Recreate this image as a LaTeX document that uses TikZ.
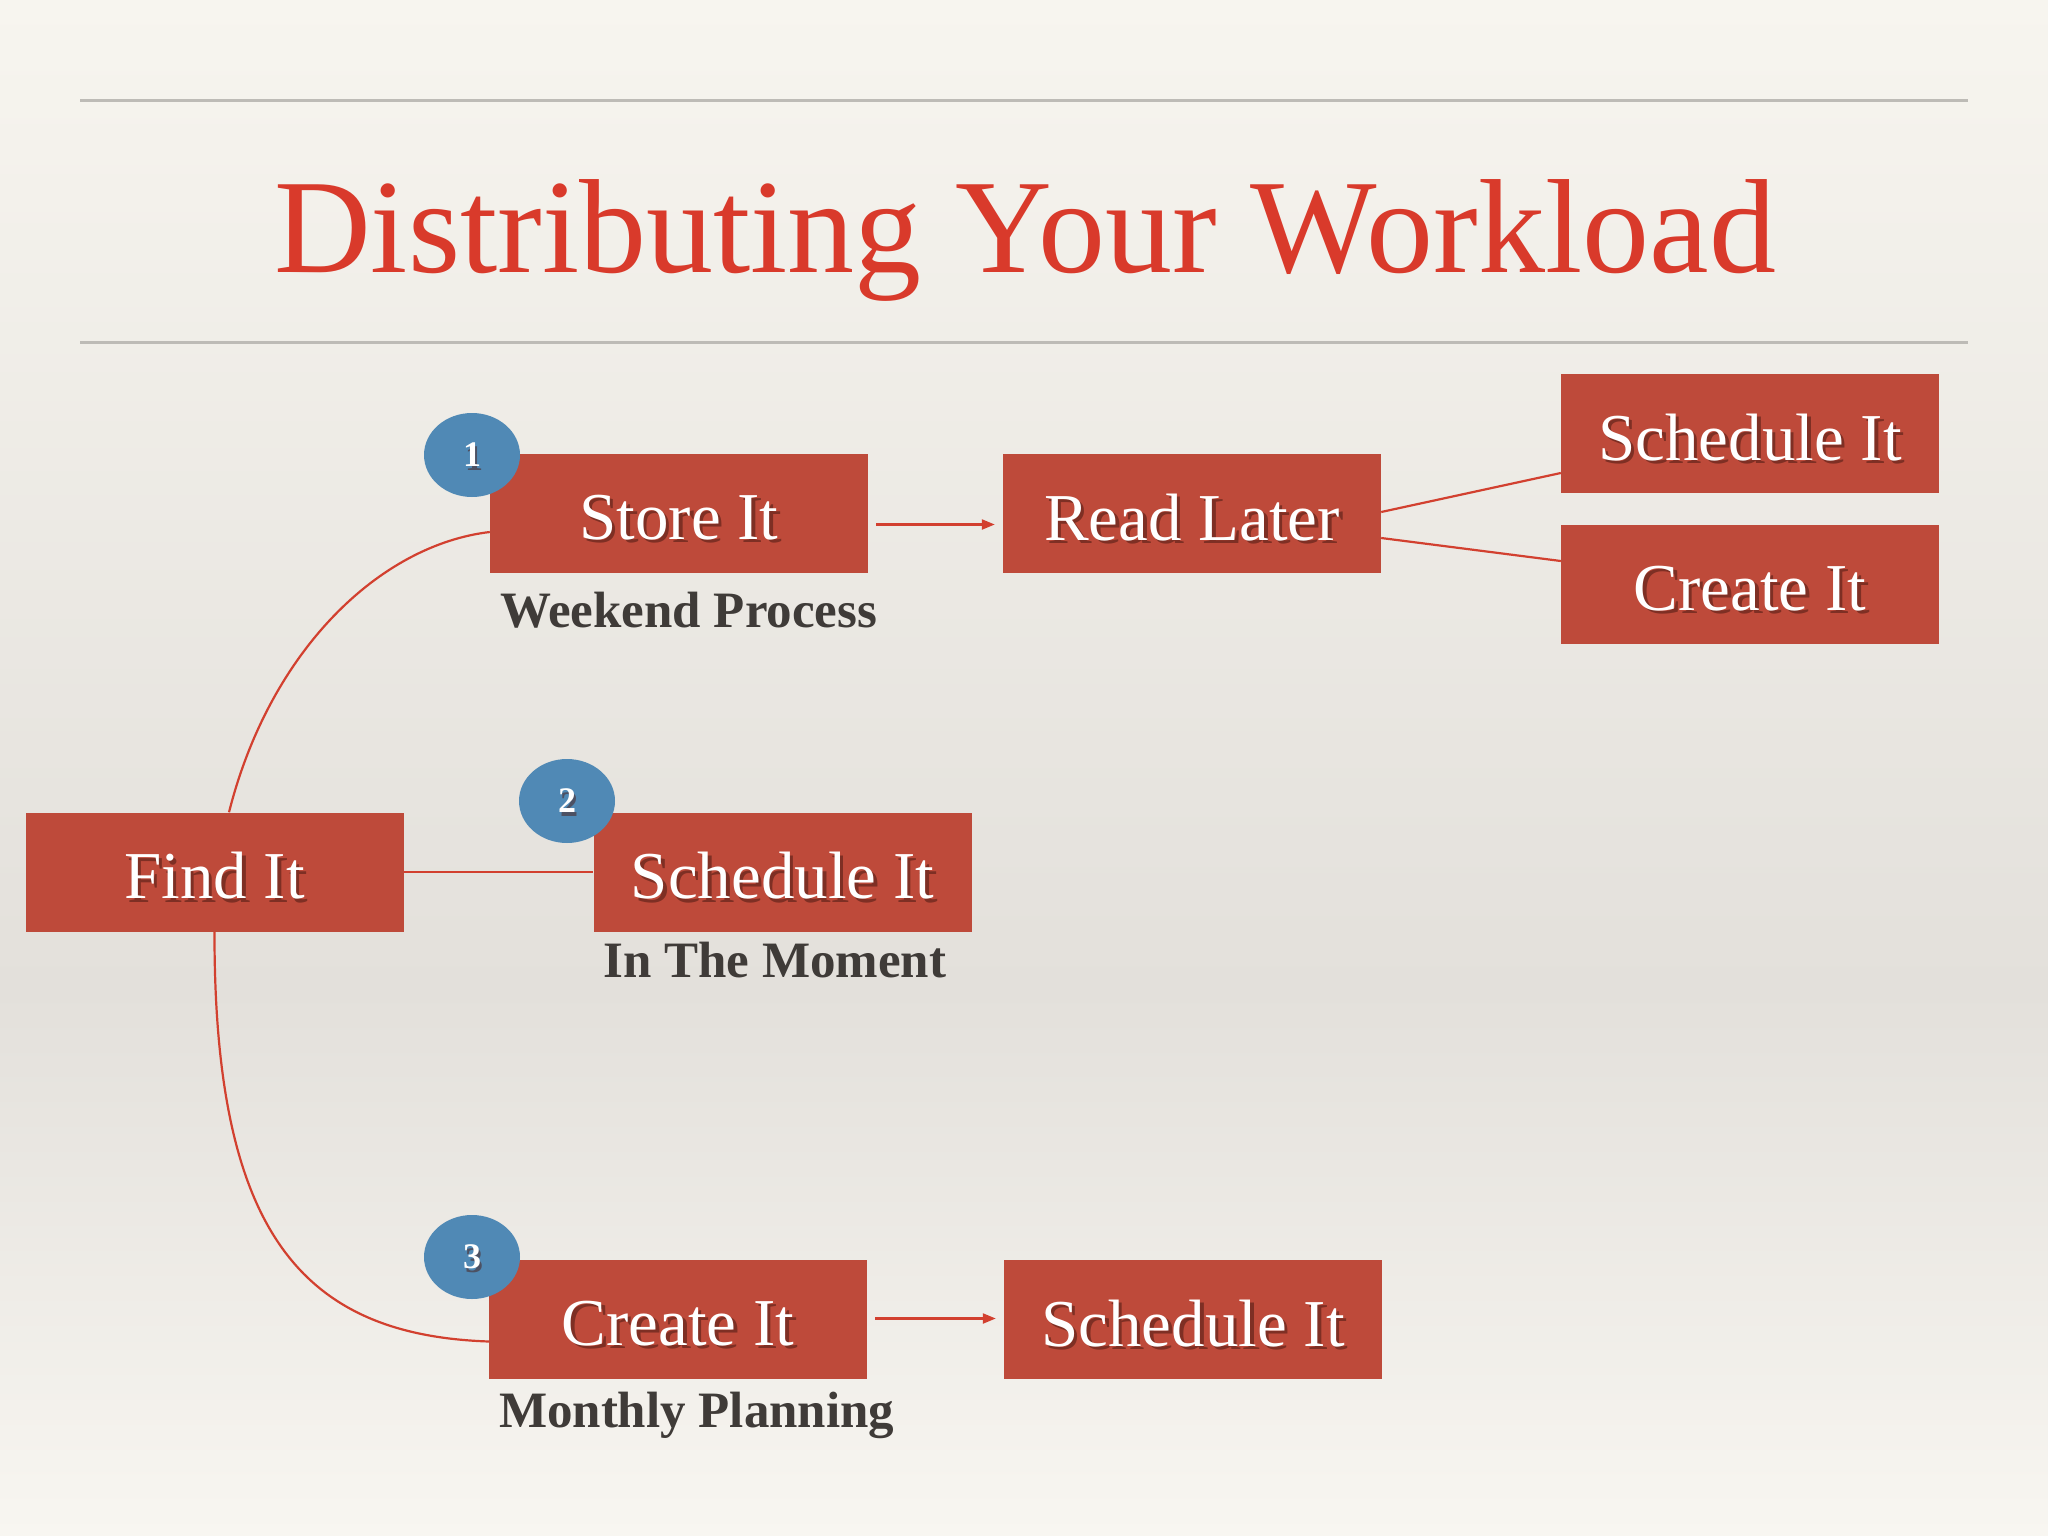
\documentclass[tikz,border=0pt]{standalone}
\usepackage{fontspec}
\setmainfont{Liberation Serif}
\usetikzlibrary{arrows.meta,calc,shapes.geometric}
\definecolor{bgtop}{HTML}{F7F5EF}
\definecolor{bgmid}{HTML}{E3E0DB}
\definecolor{bgbot}{HTML}{F8F6F1}
\definecolor{boxred}{HTML}{BE4A3A}
\definecolor{titlered}{HTML}{D93A2B}
\definecolor{linered}{HTML}{D2402F}
\definecolor{badgeblue}{HTML}{5089B5}
\definecolor{rulegray}{HTML}{BDBBB6}
\definecolor{labelgray}{HTML}{3F3B38}
\definecolor{shadowdark}{HTML}{4A1A12}
\tikzset{
  stepbox/.style={rectangle, fill=boxred, minimum width=378pt, minimum height=119pt, inner sep=0pt},
  boxtext/.style={text=white, font=\fontsize{67}{70}\selectfont},
  boxshadow/.style={text=shadowdark, opacity=0.55, font=\fontsize{67}{70}\selectfont},
  badge/.style={ellipse, fill=badgeblue, minimum width=96pt, minimum height=84pt, inner sep=0pt},
  badgetext/.style={text=white, font=\bfseries\fontsize{36}{38}\selectfont},
  sublabel/.style={anchor=base west, text=labelgray, inner sep=0pt, font=\bfseries\fontsize{51}{54}\selectfont},
  conn/.style={draw=linered, line width=2.2pt},
  arr/.style={conn, -{Triangle[length=13pt,width=10pt]}}
}
\newcommand{\stepnode}[3]{%
  \node[stepbox] (#1) at (#2) {};
  \node[boxshadow] at ($(#2)+(3.5,7.5)$) {#3};
  \node[boxtext] at ($(#2)+(0,4)$) {#3};
}
\begin{document}
\begin{tikzpicture}[x=1pt,y=-1pt]
\useasboundingbox (0,0) rectangle (2048,1536);
% background
\shade[top color=bgtop, bottom color=bgmid] (0,0) rectangle (2048,990);
\shade[top color=bgmid, bottom color=bgbot] (0,990) rectangle (2048,1536);
% rules and title
\coordinate (r1a) at (80,100.5); \coordinate (r1b) at (1968,100.5);
\coordinate (r2a) at (80,342.5); \coordinate (r2b) at (1968,342.5);
\draw[rulegray, line width=2.5pt] (r1a) -- (r1b);
\draw[rulegray, line width=2.5pt] (r2a) -- (r2b);
\node[anchor=base, text=titlered, inner sep=0pt, font=\fontsize{134}{140}\selectfont] (title) at (1025,272) {Distributing Your Workload};
% boxes
\stepnode{store}{679,513.5}{Store It}
\stepnode{readlater}{1192,513.5}{Read Later}
\stepnode{schedtop}{1750,433.5}{Schedule It}
\stepnode{createright}{1750,584.5}{Create It}
\stepnode{find}{214.5,872}{Find It}
\stepnode{schedmid}{782.5,872}{Schedule It}
\stepnode{createbot}{678,1319.5}{Create It}
\stepnode{schedbot}{1193,1319.5}{Schedule It}
% sub labels
\node[sublabel] (lab1) at ($(store.south west)+(10,54)$) {Weekend Process};
\node[sublabel] (lab2) at ($(schedmid.south west)+(10,46)$) {In The Moment};
\node[sublabel] (lab3) at ($(createbot.south west)+(10,48)$) {Monthly Planning};
% connectors
\draw[arr] ($(store.east)+(8,11)$) -- ($(readlater.west)+(-8,11)$);
\draw[arr] ($(createbot.east)+(8,-1)$) -- ($(schedbot.west)+(-8,-1)$);
\draw[conn] ($(readlater.east)+(0,-1.5)$) -- ($(schedtop.west)+(0,39.5)$);
\draw[conn] ($(readlater.east)+(0,24.5)$) -- ($(createright.west)+(0,-23.5)$);
\draw[conn] (find.east) -- (schedmid.west);
\draw[conn] ($(find.north)+(14.5,0)$) .. controls (270,650) and (380,545) .. ($(store.west)+(0,18.5)$);
\draw[conn] (find.south) .. controls (214,1230) and (300,1335) .. ($(createbot.west)+(0,22)$);
% badges
\node[badge] (b1) at (472,455) {};
\node[badgetext, text=shadowdark, opacity=0.5] at (474,459) {1};
\node[badgetext] at (b1) {1};
\node[badge] (b2) at (567,801) {};
\node[badgetext, text=shadowdark, opacity=0.5] at (569,805) {2};
\node[badgetext] at (b2) {2};
\node[badge] (b3) at (472,1257) {};
\node[badgetext, text=shadowdark, opacity=0.5] at (474,1261) {3};
\node[badgetext] at (b3) {3};
\end{tikzpicture}
\end{document}
